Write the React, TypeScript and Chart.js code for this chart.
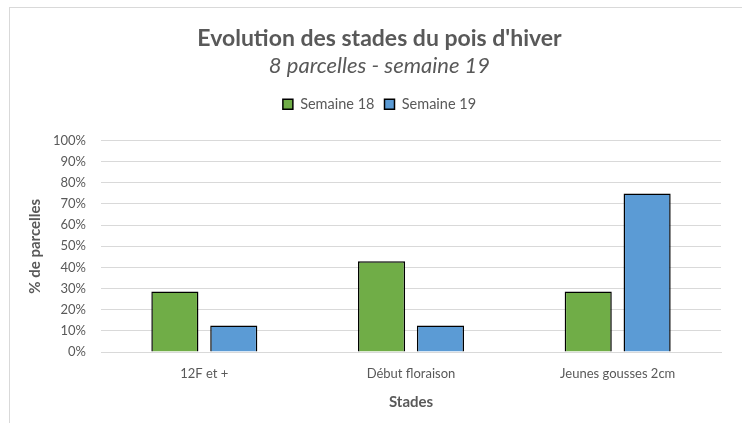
import React, { useEffect, useRef } from "react";
import { Chart, registerables } from "chart.js";

Chart.register(...registerables);

const categories = ["12F et +", "Début floraison", "Jeunes gousses 2cm"];
const semaine18 = [28.6, 42.9, 28.6];
const semaine19 = [12.5, 12.5, 75];
const seriesLabels = ["Semaine 18", "Semaine 19"];
const titleText = "Evolution des stades du pois d'hiver";
const subtitleText = "8 parcelles - semaine 19";
const yTitle = "% de parcelles";
const xTitle = "Stades";

const FONT = "Lato, 'Open Sans', sans-serif";
const GREY = "#595959";

export default function App() {
  const ref = useRef<HTMLCanvasElement | null>(null);
  useEffect(() => {
    document.body.style.overflow = "hidden";
    const legendSpacer = {
      id: "legendSpacer",
      beforeInit(chart: any) {
        const orig = chart.legend.fit;
        chart.legend.fit = function () {
          orig.bind(chart.legend)();
          this.height += 19;
        };
      },
    };
    const chart = new Chart(ref.current!, {
      type: "bar",
      data: {
        labels: categories,
        datasets: [
          {
            label: seriesLabels[0],
            data: semaine18,
            backgroundColor: "#70ad47",
            borderColor: "#000000",
            borderWidth: 1.5,
            categoryPercentage: 0.57,
            barPercentage: 0.8,
          },
          {
            label: seriesLabels[1],
            data: semaine19,
            backgroundColor: "#5b9bd5",
            borderColor: "#000000",
            borderWidth: 1.5,
            categoryPercentage: 0.57,
            barPercentage: 0.8,
          },
        ],
      },
      plugins: [legendSpacer],
      options: {
        animation: false,
        responsive: false,
        layout: { padding: { left: 28, right: 21, top: 0, bottom: 0 } },
        plugins: {
          title: {
            display: true,
            text: titleText,
            color: GREY,
            font: { family: FONT, size: 23, weight: "bold" },
            padding: { top: 17, bottom: 0 },
          },
          subtitle: {
            display: true,
            text: subtitleText,
            color: GREY,
            font: { family: FONT, size: 22, style: "italic" },
            padding: { top: 0, bottom: 8 },
          },
          legend: {
            position: "top",
            labels: {
              color: GREY,
              font: { family: FONT, size: 14.5 },
              boxWidth: 10,
              boxHeight: 10,
              useBorderRadius: false,
              padding: 10,
            },
          },
          tooltip: { enabled: false },
        },
        scales: {
          x: {
            grid: { display: false },
            border: { display: true, color: "#d9d9d9", width: 1 },
            ticks: { color: GREY, font: { family: FONT, size: 13 }, padding: 6 },
            title: {
              display: true,
              text: xTitle,
              color: GREY,
              font: { family: FONT, size: 15, weight: "bold" },
              padding: { top: 2, bottom: 12 },
            },
            afterFit(scale: any) {
              scale.height = 71;
            },
          },
          y: {
            min: 0,
            max: 100,
            grid: { color: "#d9d9d9", drawTicks: false, lineWidth: 1 },
            border: { display: false },
            ticks: {
              stepSize: 10,
              color: GREY,
              font: { family: FONT, size: 13 },
              padding: 15,
              callback: (v: any) => v + "%",
            },
            title: {
              display: true,
              text: yTitle,
              color: GREY,
              font: { family: FONT, size: 15, weight: "bold" },
              padding: { top: -12, bottom: 4 },
            },
            afterFit(scale: any) {
              scale.width = 63;
            },
          },
        },
      },
    });
    return () => chart.destroy();
  }, []);
  return (
    <div
      style={{
        position: "fixed",
        left: 9,
        top: 7,
        width: 760,
        height: 440,
        border: "1px solid #d9d9d9",
        background: "#fff",
      }}
    >
      <canvas ref={ref} width={732} height={415} style={{ display: "block" }} />
    </div>
  );
}
